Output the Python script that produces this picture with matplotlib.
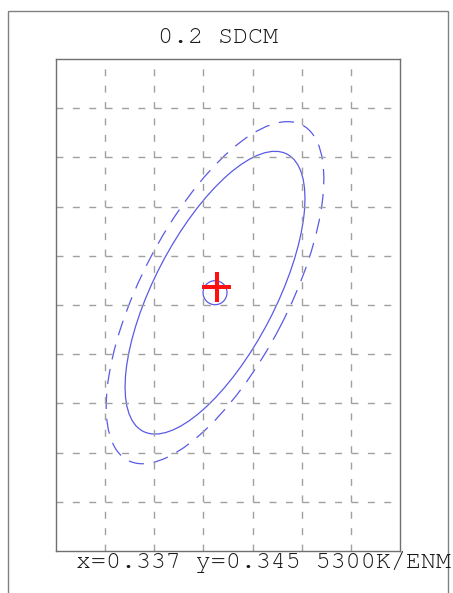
import numpy as np
import matplotlib
matplotlib.use("Agg")
import matplotlib.pyplot as plt
from matplotlib.patches import Ellipse, Circle, Rectangle

# chart values (grid units: one grid square = 1)
title = "0.2 SDCM"
footer = "x=0.337 y=0.345 5300K/ENM"
grid_x = [1, 2, 3, 4, 5, 6]
grid_y = [1, 2, 3, 4, 5, 6, 7, 8, 9]
xlim = (0, 7)
ylim = (0, 10)
target = (3.236, 5.25)        # ellipse / circle centre
measured = (3.27, 5.37)       # red cross
ellipse_axes = (6.35, 2.47)   # full width, height of solid ellipse
ellipse_angle = 62.5
outer_scale = 1.21            # dashed ellipse relative size
circle_r = 0.244
cross_half = (0.295, 0.305)

plt.rcParams['lines.scale_dashes'] = False
mono = ['FreeMono', 'Liberation Mono', 'DejaVu Sans Mono']

fig = plt.figure(figsize=(4.53, 5.93), dpi=100)
ax = fig.add_axes([56/453, 42/593, 344/453, 492/593])
ax.set_xlim(*xlim)
ax.set_ylim(*ylim)
ax.set_xticks(grid_x)
ax.set_yticks(grid_y)
ax.tick_params(length=0, labelbottom=False, labelleft=False)
ax.grid(True, color='#a0a0a0', linewidth=1.0, linestyle=(0, (5.0, 6.8)))
for s in ax.spines.values():
    s.set_color('#707070')
    s.set_linewidth(1.0)

blue = '#5a5ae6'
ax.add_patch(Ellipse(target, ellipse_axes[0], ellipse_axes[1], angle=ellipse_angle,
                     fill=False, edgecolor=blue, linewidth=0.9))
ax.add_patch(Ellipse(target, ellipse_axes[0]*outer_scale, ellipse_axes[1]*outer_scale,
                     angle=ellipse_angle, fill=False, edgecolor=blue, linewidth=0.9,
                     linestyle=(0, (11, 7))))
ax.add_patch(Circle(target, circle_r, fill=False, edgecolor=blue, linewidth=0.9))

mx, my = measured
ax.plot([mx - cross_half[0], mx + cross_half[0]], [my, my], color='#ff1010', linewidth=2.9,
        solid_capstyle='butt')
ax.plot([mx, mx], [my - cross_half[1], my + cross_half[1]], color='#ff1010', linewidth=2.9,
        solid_capstyle='butt')

# outer frame, open at the bottom
fig.add_artist(Rectangle((8/453, -0.1), 440/453, (593-11)/593 + 0.1,
                         transform=fig.transFigure, fill=False,
                         edgecolor='#808080', linewidth=1.0))

fig.text(217.5/453, 1 - 43/593, title, ha='center', va='baseline',
         family=mono, fontsize=18, color='#1a1a1a')
fig.text(76/453, 1 - 568/593, footer, ha='left', va='baseline',
         family=mono, fontsize=18, color='#1a1a1a')

fig.savefig('out.png', dpi=100)
